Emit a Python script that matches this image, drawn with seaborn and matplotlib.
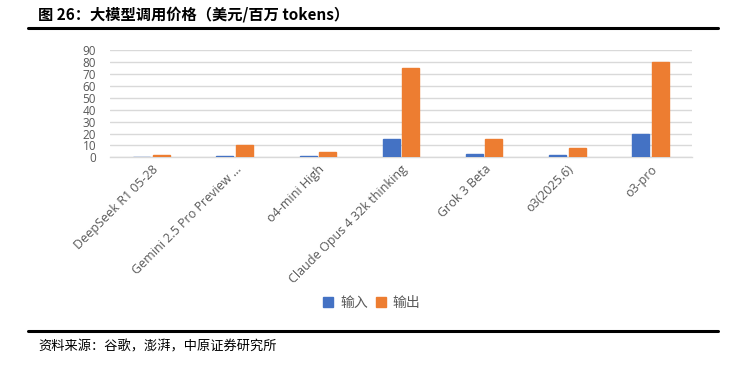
import matplotlib
matplotlib.use("Agg")
import matplotlib.pyplot as plt
import seaborn as sns
import pandas as pd
from matplotlib.lines import Line2D
from matplotlib.patches import Patch

models = ["DeepSeek R1 05-28", "Gemini 2.5 Pro Preview ...", "o4-mini High",
          "Claude Opus 4 32k thinking", "Grok 3 Beta", "o3(2025.6)", "o3-pro"]
input_price = [0.55, 1.25, 1.1, 15, 3, 2, 20]
output_price = [2.19, 10, 4.4, 75, 15, 8, 80]
series_names = ["输入", "输出"]
yticks = [0, 10, 20, 30, 40, 50, 60, 70, 80, 90]

title = "图 26：大模型调用价格（美元/百万 tokens）"
source = "资料来源：谷歌，澎湃，中原证券研究所"

colors = ["#4472C4", "#ED7D31"]

df = pd.DataFrame({
    "model": models * 2,
    "series": [series_names[0]] * len(models) + [series_names[1]] * len(models),
    "price": input_price + output_price,
})

sns.set_theme(style="white")
plt.rcParams["font.family"] = ["Noto Sans CJK SC", "DejaVu Sans"]

W, H = 730, 366
fig = plt.figure(figsize=(W / 100, H / 100), dpi=100)

ax = fig.add_axes([110 / W, (H - 157.3) / H, (692 - 110) / W, (157.3 - 50.3) / H])
sns.barplot(data=df, x="model", y="price", hue="series", palette=colors,
            width=0.47, gap=0.13, ax=ax, legend=False, saturation=1,
            linewidth=0)
for p in ax.patches:
    p.set_edgecolor(p.get_facecolor())
    p.set_linewidth(1.0)
    p.set_zorder(4)

ax.set_ylim(0, 90)
ax.set_xlim(-0.5, len(models) - 0.5)
ax.set_yticks(yticks)
ax.yaxis.grid(True, color="#D9D9D9", linewidth=1)
ax.set_axisbelow(True)
for s in ["top", "right", "left"]:
    ax.spines[s].set_visible(False)
ax.spines["bottom"].set_color("#D9D9D9")
ax.spines["bottom"].set_linewidth(1)
ax.spines["bottom"].set_zorder(2)
ax.set_xlabel("")
ax.set_ylabel("")
ax.tick_params(axis="y", length=0, pad=10, labelsize=8.5, labelcolor="#595959")
ax.tick_params(axis="x", length=0, pad=4, labelsize=9, labelcolor="#595959")
for lab in ax.get_yticklabels():
    lab.set_family(["Open Sans", "DejaVu Sans"])
for lab in ax.get_xticklabels():
    lab.set_rotation(45)
    lab.set_ha("right")
    lab.set_rotation_mode("anchor")
    lab.set_family(["Open Sans", "DejaVu Sans"])

handles = [Patch(facecolor=c, edgecolor=c) for c in colors]
fig.legend(handles, series_names, loc="center", bbox_to_anchor=(372 / W, (H - 303) / H),
           ncol=2, frameon=False, fontsize=10, labelcolor="#595959",
           handlelength=0.7, handleheight=0.7, handletextpad=0.5, columnspacing=0.6)

fig.text(38 / W, (H - 15) / H, title, fontsize=11, fontweight="bold",
         va="center", ha="left", color="black")
fig.add_artist(Line2D([28 / W, 718 / W], [(H - 28) / H] * 2, color="black", linewidth=2.2))
fig.add_artist(Line2D([28 / W, 718 / W], [(H - 331) / H] * 2, color="black", linewidth=2.2))
fig.text(38 / W, (H - 347) / H, source, fontsize=9.5, va="center", ha="left", color="black")

fig.savefig("out.png", dpi=100)
